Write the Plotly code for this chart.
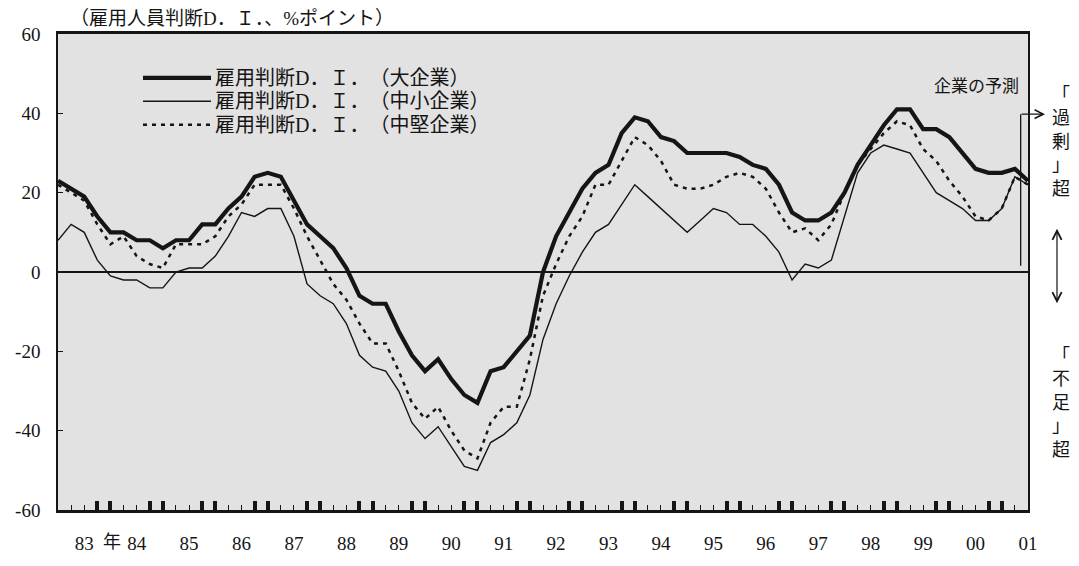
import plotly.graph_objects as go

# Quarterly survey periods (decimal years), 1982 Q3 through 2001 Q1
start_year = 1982.5
period = [start_year + 0.25 * i for i in range(75)]

# Employment conditions D.I. (% points): "excess" minus "shortage"
large_firms = [23, 21, 19, 14, 10, 10, 8, 8, 6, 8,
               8, 12, 12, 16, 19, 24, 25, 24, 18, 12,
               9, 6, 1, -6, -8, -8, -15, -21, -25, -22,
               -27, -31, -33, -25, -24, -20, -16, 0, 9, 15,
               21, 25, 27, 35, 39, 38, 34, 33, 30, 30,
               30, 30, 29, 27, 26, 22, 15, 13, 13, 15,
               20, 27, 32, 37, 41, 41, 36, 36, 34, 30,
               26, 25, 25, 26, 23]

small_firms = [8, 12, 10, 3, -1, -2, -2, -4, -4, 0,
               1, 1, 4, 9, 15, 14, 16, 16, 9, -3,
               -6, -8, -13, -21, -24, -25, -30, -38, -42, -39,
               -44, -49, -50, -43, -41, -38, -31, -17, -8, -1,
               5, 10, 12, 17, 22, 19, 16, 13, 10, 13,
               16, 15, 12, 12, 9, 5, -2, 2, 1, 3,
               14, 25, 30, 32, 31, 30, 25, 20, 18, 16,
               13, 13, 16, 24, 22]

mid_firms = [22, 20, 18, 12, 7, 9, 4, 2, 1, 7,
             7, 7, 9, 14, 17, 22, 22, 22, 16, 9,
             3, -3, -7, -13, -18, -18, -25, -33, -37, -34,
             -40, -45, -47, -38, -34, -34, -22, -6, 2, 9,
             14, 22, 22, 28, 34, 32, 28, 22, 21, 21,
             22, 24, 25, 24, 21, 15, 10, 11, 8, 12,
             20, 27, 31, 35, 38, 37, 31, 28, 23, 19,
             14, 13, 16, 24, 22]

series_names = ["雇用判断D．Ｉ．　（大企業）",
                "雇用判断D．Ｉ．　（中小企業）",
                "雇用判断D．Ｉ．　（中堅企業）"]

year_ticks = list(range(1983, 2002))
year_labels = ["83", "84", "85", "86", "87", "88", "89", "90", "91", "92",
               "93", "94", "95", "96", "97", "98", "99", "00", "01"]
y_ticks = [-60, -40, -20, 0, 20, 40, 60]
y_labels = ["-60", "-40", "-20", "0", "20", "40", "60"]

# quarter marks: small at Q1/Q4, heavy at Q2/Q3
small_marks = [y + 0.75 for y in range(1982, 2001)]
heavy_marks = [y + off for y in range(1983, 2001) for off in (0.25, 0.5)]

W, H = 1079, 566
PL, PR, PT, PB = 58, 1028, 34, 522


def px(x):
    return (x - PL) / (PR - PL)


def py(y):
    return (PB - y) / (PB - PT)


INK = "#151515"
SERIF = "Liberation Serif, Noto Sans CJK JP, serif"

line_styles = [dict(color=INK, width=4.2),
               dict(color=INK, width=1.4),
               dict(color=INK, width=2.5, dash="4px,5px")]
series_values = [large_firms, small_firms, mid_firms]
series_axes = ["x", "x", "x2"]

fig = go.Figure()
for name, vals, style, xa in zip(series_names, series_values, line_styles, series_axes):
    fig.add_trace(go.Scatter(x=period, y=vals, mode="lines", name=name,
                             line=style, xaxis=xa, yaxis="y",
                             showlegend=False, hoverinfo="skip"))

shapes = []
annotations = []

# legend keys drawn inside the plot area
legend_rows = [79, 103, 127]
for name, style, ry in zip(series_names, line_styles, legend_rows):
    shapes.append(dict(type="line", xref="paper", yref="paper",
                       x0=px(143), x1=px(211), y0=py(ry), y1=py(ry),
                       line=style))
    annotations.append(dict(xref="paper", yref="paper", x=px(213), y=py(ry),
                            xanchor="left", yanchor="middle", showarrow=False,
                            text=name, font=dict(family=SERIF, size=20, color=INK)))

# unit caption
annotations.append(dict(xref="paper", yref="paper", x=px(68), y=py(18),
                        xanchor="left", yanchor="middle", showarrow=False,
                        text="（雇用人員判断D．Ｉ．、%ポイント）",
                        font=dict(family=SERIF, size=19, color=INK)))

# year marker
annotations.append(dict(xref="paper", yref="paper", x=px(112), y=py(555),
                        xanchor="center", yanchor="middle", showarrow=False,
                        text="年", font=dict(family=SERIF, size=18, color=INK)))

# forecast bracket
forecast_x = 2000.86
shapes.append(dict(type="line", xref="x", yref="y", x0=forecast_x, x1=forecast_x,
                   y0=1.6, y1=39.8, line=dict(color=INK, width=1.3)))
annotations.append(dict(xref="paper", yref="y", x=px(1045), y=39.8,
                        ax=-25, ay=0, text="", showarrow=True,
                        arrowhead=5, arrowsize=1.4, arrowwidth=1.2, arrowcolor=INK))
annotations.append(dict(xref="paper", yref="paper", x=px(1021), y=py(88),
                        xanchor="right", yanchor="middle", showarrow=False,
                        text="企業の予測", font=dict(family=SERIF, size=17, color=INK)))

# vertical side notes, one column of characters each
side_notes = [("「<br>過<br>剰<br>」<br>超", 145),
              ("「<br>不<br>足<br>」<br>超", 412)]
for txt, cy in side_notes:
    annotations.append(dict(xref="paper", yref="paper", x=px(1061), y=py(cy),
                            xanchor="center", yanchor="middle", showarrow=False,
                            text=txt, font=dict(family=SERIF, size=18, color=INK)))
annotations.append(dict(xref="paper", yref="paper", x=px(1057), y=py(310),
                        ax=0, ay=-76, text="", showarrow=True, arrowside="end+start",
                        arrowhead=5, startarrowhead=5, arrowsize=1.5, startarrowsize=1.5,
                        arrowwidth=1.2, arrowcolor=INK))

tick_font = dict(family=SERIF, size=19, color=INK)

fig.update_layout(
    width=W, height=H, autosize=False,
    margin=dict(l=PL, r=W - PR, t=PT, b=H - PB, pad=0),
    paper_bgcolor="white", plot_bgcolor="#e2e2e2",
    showlegend=False,
    xaxis=dict(range=[1982.5, 2001.0], tickmode="array", tickvals=year_ticks,
               ticktext=year_labels, ticks="inside", ticklen=5, tickwidth=1.2,
               tickcolor=INK, tickfont=tick_font, ticklabelstandoff=14,
               showline=True, linewidth=2.5, linecolor=INK, mirror=True,
               showgrid=False, zeroline=False,
               minor=dict(tickmode="array", tickvals=small_marks, ticks="inside",
                          ticklen=5, tickwidth=1.2, tickcolor=INK, showgrid=False)),
    xaxis2=dict(overlaying="x", matches="x", anchor="y", side="bottom",
                tickmode="array", tickvals=heavy_marks, ticks="inside",
                ticklen=9, tickwidth=3.5, tickcolor=INK, showticklabels=False,
                showline=False, showgrid=False, zeroline=False),
    yaxis=dict(range=[-60, 60], tickmode="array", tickvals=y_ticks, ticktext=y_labels,
               ticks="inside", ticklen=5, tickwidth=1.2, tickcolor=INK,
               tickfont=tick_font, ticklabelstandoff=12,
               showline=True, linewidth=1.5, linecolor=INK, mirror=True,
               showgrid=False, zeroline=True, zerolinecolor=INK, zerolinewidth=1.5),
    shapes=shapes,
    annotations=annotations,
)

fig.write_html("out.html")
